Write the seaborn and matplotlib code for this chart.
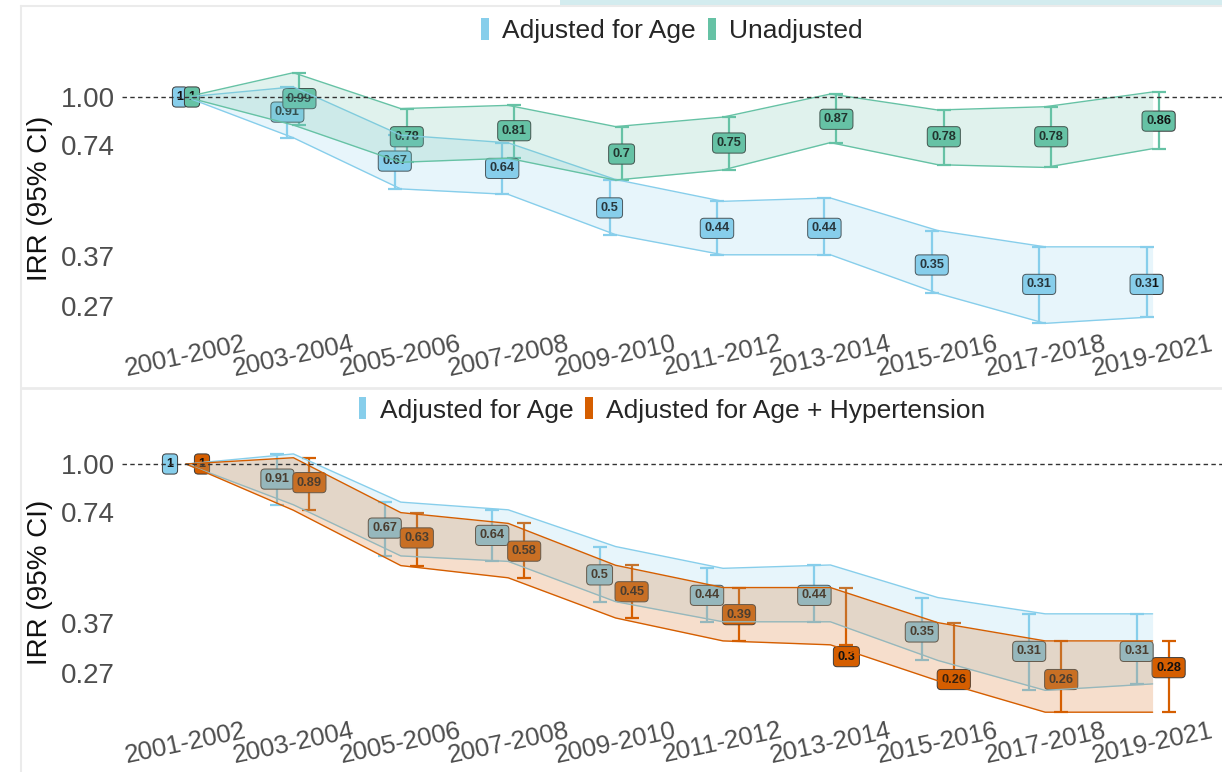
import numpy as np
import pandas as pd
import matplotlib
matplotlib.use("Agg")
import matplotlib.pyplot as plt
import seaborn as sns
from matplotlib.patches import Rectangle
from matplotlib.lines import Line2D
from matplotlib.ticker import NullLocator

# ---------------- data ----------------
periods = ["2001-2002", "2003-2004", "2005-2006", "2007-2008", "2009-2010",
           "2011-2012", "2013-2014", "2015-2016", "2017-2018", "2019-2021"]

age_irr = [1, 0.91, 0.67, 0.64, 0.5, 0.44, 0.44, 0.35, 0.31, 0.31]
age_lo = [1, 0.775, 0.563, 0.544, 0.423, 0.373, 0.373, 0.293, 0.243, 0.253]
age_hi = [1, 1.065, 0.788, 0.751, 0.597, 0.521, 0.532, 0.434, 0.392, 0.392]

unadj_irr = [1, 0.99, 0.78, 0.81, 0.7, 0.75, 0.87, 0.78, 0.78, 0.86]
unadj_lo = [1, 0.839, 0.665, 0.682, 0.595, 0.634, 0.752, 0.655, 0.644, 0.724]
unadj_hi = [1, 1.164, 0.93, 0.949, 0.831, 0.882, 1.019, 0.922, 0.941, 1.032]

htn_irr = [1, 0.89, 0.63, 0.58, 0.45, 0.39, 0.3, 0.26, 0.26, 0.28]
htn_lo = [1, 0.749, 0.53, 0.491, 0.382, 0.331, 0.323, 0.258, 0.212, 0.212]
htn_hi = [1, 1.04, 0.738, 0.69, 0.531, 0.462, 0.462, 0.371, 0.331, 0.331]

y_ticks = [1.0, 0.74, 0.37, 0.27]
y_tick_labels = ["1.00", "0.74", "0.37", "0.27"]

name_age = "Adjusted for Age"
name_unadj = "Unadjusted"
name_htn = "Adjusted for Age + Hypertension"

C_AGE = "#87CEEB"
C_UN = "#66C2A5"
C_HTN = "#D55E00"

# ---------------- style ----------------
sns.set_theme(style="white")
plt.rcParams['font.family'] = ['Liberation Sans', 'DejaVu Sans']

W, H = 1222, 772
fig = plt.figure(figsize=(W / 100, H / 100), dpi=100)
fig.patch.set_facecolor("white")


def px_axes(x0, y0, x1, y1):
    return fig.add_axes([x0 / W, 1 - y1 / H, (x1 - x0) / W, (y1 - y0) / H])


def panel(ax, series, dodge, ylim, legend_y):
    x = np.arange(len(periods))
    # error bars and value labels (drawn below the ribbons)
    for k, (name, irr, lo, hi, col) in enumerate(series):
        lo = np.asarray(lo, float)
        hi = np.asarray(hi, float)
        xd = x + dodge[k]
        m = hi > lo
        ax.errorbar(xd[m], ((lo + hi) / 2)[m], yerr=((hi - lo) / 2)[m], fmt="none",
                    ecolor=col, elinewidth=1.6, capsize=5.3, capthick=1.6, zorder=2)
        for xi, v in zip(xd, irr):
            ax.text(xi, v, f"{v:g}", ha="center", va="center", fontsize=9.2,
                    fontweight="bold", color="#111111", zorder=3,
                    bbox=dict(boxstyle="round,pad=0.32,rounding_size=0.3",
                              fc=col, ec="#3a3a3a", lw=0.7))
    # ribbons on top
    for k, (name, irr, lo, hi, col) in enumerate(series):
        ax.fill_between(x, lo, hi, color=col, alpha=0.2, lw=0, zorder=4 + k)
        sns.lineplot(x=x, y=lo, color=col, lw=1.0, ax=ax, zorder=4 + k)
        sns.lineplot(x=x, y=hi, color=col, lw=1.0, ax=ax, zorder=4 + k)
    ax.axhline(1.0, color="#333333", ls=(0, (3.2, 2.4)), lw=1.0, zorder=10)

    ax.set_yscale("log")
    ax.set_ylim(*ylim)
    ax.set_yticks(y_ticks)
    ax.set_yticklabels(y_tick_labels)
    ax.yaxis.set_minor_locator(NullLocator())
    ax.set_xlim((122 - 186) / 107.4, (1222 - 186) / 107.4)
    ax.set_xticks(x)
    ax.set_xticklabels(periods, rotation=12, ha="center", va="top")
    ax.tick_params(axis="x", length=0, pad=1, labelsize=18.5, labelcolor="#4d4d4d")
    ax.tick_params(axis="y", length=0, pad=5, labelsize=20, labelcolor="#4d4d4d")
    ax.set_xlabel("")
    ax.set_ylabel("")
    for s in ax.spines.values():
        s.set_visible(False)
    ax.set_facecolor("white")

    handles = [Rectangle((0, 0), 1, 1, fc=s[4], ec="none") for s in series]
    ax.legend(handles, [s[0] for s in series], loc="center",
              bbox_to_anchor=(672 / W, 1 - legend_y / H), bbox_transform=fig.transFigure,
              ncol=len(series), frameon=False, fontsize=19, handlelength=0.3,
              handleheight=0.9, handletextpad=0.5, columnspacing=0.45, borderaxespad=0,
              borderpad=0)


# top panel: 1.00 at y=97px, 160 px per ln unit
ax1 = px_axes(122, 57, 1222, 330)
panel(ax1,
      [(name_age, age_irr, age_lo, age_hi, C_AGE),
       (name_unadj, unadj_irr, unadj_lo, unadj_hi, C_UN)],
      dodge=[-0.056, 0.056],
      ylim=(np.exp(-(330 - 97) / 160), np.exp((97 - 57) / 160)),
      legend_y=30.5)

# bottom panel: 1.00 at y=464px
ax2 = px_axes(122, 424, 1222, 717)
panel(ax2,
      [(name_age, age_irr, age_lo, age_hi, C_AGE),
       (name_htn, htn_irr, htn_lo, htn_hi, C_HTN)],
      dodge=[-0.149, 0.149],
      ylim=(np.exp(-(717 - 464) / 160), np.exp((464 - 424) / 160)),
      legend_y=410)

# y axis titles
fig.text(40 / W, 1 - 198 / H, "IRR (95% CI)", rotation=90, ha="center", va="center",
         fontsize=20, color="#111111")
fig.text(40 / W, 1 - 582 / H, "IRR (95% CI)", rotation=90, ha="center", va="center",
         fontsize=20, color="#111111")

# page frame lines
line_c = "#ebebeb"
fig.add_artist(Line2D([21 / W, 21 / W], [0, 1 - 6 / H], transform=fig.transFigure,
                      color=line_c, lw=1.5))
fig.add_artist(Line2D([21 / W, 1], [1 - 6 / H, 1 - 6 / H], transform=fig.transFigure,
                      color=line_c, lw=1.5))
fig.add_artist(Line2D([21 / W, 1], [1 - 388 / H, 1 - 388 / H], transform=fig.transFigure,
                      color=line_c, lw=2.0))
fig.add_artist(Rectangle((560 / W, 1 - 5 / H), (W - 560) / W, 5 / H,
                         transform=fig.transFigure, fc="#d3ecef", ec="none"))

fig.savefig("out.png", dpi=100)
